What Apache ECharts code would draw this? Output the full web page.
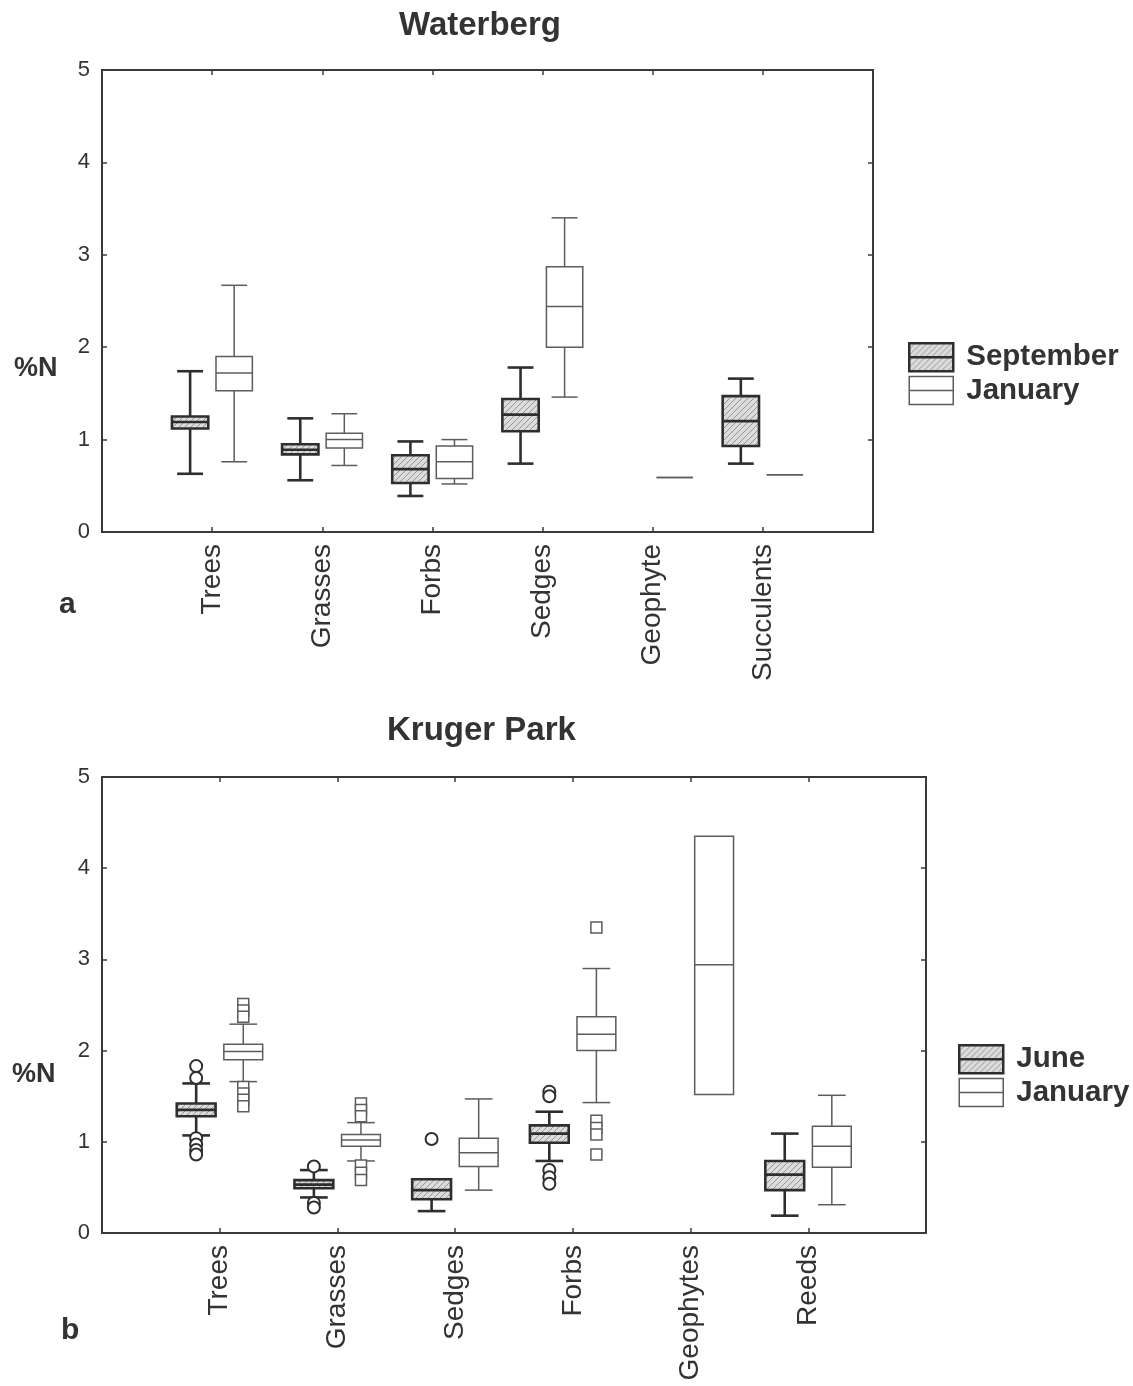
<!DOCTYPE html>
<html><head><meta charset="utf-8">
<script src="https://cdn.jsdelivr.net/npm/echarts@6/dist/echarts.min.js"></script>
<style>html,body{margin:0;padding:0;background:#fff}#c{width:1133px;height:1386px}</style>
</head><body><div id="c"></div><script>
// ---------- data (box stats: [min, q1, median, q3, max]) ----------
const waterbergCategories = ['Trees', 'Grasses', 'Forbs', 'Sedges', 'Geophyte', 'Succulents'];
const waterbergSeptember = [
  [0.63, 1.12, 1.19, 1.25, 1.74],
  [0.56, 0.84, 0.89, 0.95, 1.23],
  [0.39, 0.53, 0.68, 0.83, 0.98],
  [0.74, 1.09, 1.27, 1.44, 1.78],
  null,
  [0.74, 0.93, 1.20, 1.47, 1.66]
];
const waterbergJanuary = [
  [0.76, 1.53, 1.72, 1.90, 2.67],
  [0.72, 0.91, 1.00, 1.07, 1.28],
  [0.52, 0.58, 0.76, 0.93, 1.00],
  [1.46, 2.00, 2.44, 2.87, 3.40],
  [0.59, 0.59, 0.59, 0.59, 0.59],
  [0.62, 0.62, 0.62, 0.62, 0.62]
];
const krugerCategories = ['Trees', 'Grasses', 'Sedges', 'Forbs', 'Geophytes', 'Reeds'];
const krugerJune = [
  [1.07, 1.28, 1.35, 1.42, 1.64],
  [0.39, 0.49, 0.53, 0.58, 0.69],
  [0.24, 0.37, 0.47, 0.59, 0.59],
  [0.79, 0.99, 1.09, 1.18, 1.33],
  null,
  [0.19, 0.47, 0.64, 0.79, 1.09]
];
const krugerJanuary = [
  [1.66, 1.90, 1.99, 2.07, 2.29],
  [0.79, 0.95, 1.02, 1.08, 1.21],
  [0.47, 0.73, 0.88, 1.04, 1.47],
  [1.43, 2.00, 2.18, 2.37, 2.90],
  [1.52, 1.52, 2.94, 4.35, 4.35],
  [0.31, 0.72, 0.95, 1.17, 1.51]
];
// outliers: [categoryIndex, value]
const krugerJuneOutliers = [
  [0, 1.83], [0, 1.70], [0, 1.04], [0, 0.97], [0, 0.91], [0, 0.86],
  [1, 0.73], [1, 0.33], [1, 0.28],
  [2, 1.03],
  [3, 1.55], [3, 1.50], [3, 0.69], [3, 0.61], [3, 0.54]
];
const krugerJanuaryOutliers = [
  [0, 2.51], [0, 2.44], [0, 2.37], [0, 1.60], [0, 1.53], [0, 1.46], [0, 1.39],
  [1, 1.42], [1, 1.35], [1, 1.28], [1, 0.74], [1, 0.66], [1, 0.58],
  [3, 3.35], [3, 1.23], [3, 1.15], [3, 1.08], [3, 0.86]
];
const yTicks = ['0', '1', '2', '3', '4', '5'];

// ---------- styling ----------
const FONT = '"Liberation Sans", Arial, Helvetica, sans-serif';
const TXT = '#333';
const AX = '#3a3a3a';

function makeHatch() {
  const c = document.createElement('canvas');
  c.width = 6; c.height = 6;
  const ctx = c.getContext('2d');
  ctx.fillStyle = '#dcdcdc';
  ctx.fillRect(0, 0, 6, 6);
  ctx.strokeStyle = '#959595';
  ctx.lineWidth = 1;
  ctx.beginPath();
  ctx.moveTo(0, 6); ctx.lineTo(6, 0);
  ctx.moveTo(-3, 3); ctx.lineTo(3, -3);
  ctx.moveTo(3, 9); ctx.lineTo(9, 3);
  ctx.stroke();
  return { image: c, repeat: 'repeat' };
}
const hatch = makeHatch();

const DARK = { stroke: '#2e2e2e', lineWidth: 2.6, fill: hatch };
const LIGHT = { stroke: '#5c5c5c', lineWidth: 1.5, fill: '#ffffff' };

function boxData(stats) {
  const out = [];
  stats.forEach((s, i) => { if (s) out.push([i + 1].concat(s)); });
  return out;
}
function outlierData(list) {
  return list.map(o => [o[0] + 1, o[1]]);
}

function boxRenderer(side, st) {
  return function (params, api) {
    const xi = api.value(0);
    const band = api.size([1, 0])[0];
    const cx = api.coord([xi, 0])[0] + side * 0.2 * band;
    const bw = band * 0.33, cw = band * 0.235;
    const y = k => api.coord([xi, api.value(k)])[1];
    const yMin = y(1), yQ1 = y(2), yMed = y(3), yQ3 = y(4), yMax = y(5);
    const ls = { stroke: st.stroke, lineWidth: st.lineWidth };
    const ch = [];
    if (yMax < yQ3 - 0.5) {
      ch.push({ type: 'line', shape: { x1: cx, y1: yQ3, x2: cx, y2: yMax }, style: ls });
      ch.push({ type: 'line', shape: { x1: cx - cw / 2, y1: yMax, x2: cx + cw / 2, y2: yMax }, style: ls });
    }
    if (yMin > yQ1 + 0.5) {
      ch.push({ type: 'line', shape: { x1: cx, y1: yQ1, x2: cx, y2: yMin }, style: ls });
      ch.push({ type: 'line', shape: { x1: cx - cw / 2, y1: yMin, x2: cx + cw / 2, y2: yMin }, style: ls });
    }
    ch.push({ type: 'rect', shape: { x: cx - bw / 2, y: yQ3, width: bw, height: Math.max(0, yQ1 - yQ3) },
      style: { fill: st.fill, stroke: st.stroke, lineWidth: st.lineWidth } });
    ch.push({ type: 'line', shape: { x1: cx - bw / 2, y1: yMed, x2: cx + bw / 2, y2: yMed }, style: ls });
    return { type: 'group', children: ch };
  };
}
function outlierRenderer(side, shape, st) {
  return function (params, api) {
    const xi = api.value(0);
    const band = api.size([1, 0])[0];
    const p = api.coord([xi, api.value(1)]);
    const cx = p[0] + side * 0.2 * band;
    const style = { fill: '#fff', stroke: st.stroke, lineWidth: st === DARK ? 2 : 1.5 };
    if (shape === 'circle') return { type: 'circle', shape: { cx: cx, cy: p[1], r: 6 }, style };
    return { type: 'rect', shape: { x: cx - 5.5, y: p[1] - 5.5, width: 11, height: 11 }, style };
  };
}

function padCats(c) { return [''].concat(c, ['']); }

const grids = [
  { left: 102, top: 70, width: 771, height: 462, show: true, borderColor: AX, borderWidth: 2, backgroundColor: 'transparent' },
  { left: 102, top: 777, width: 824, height: 456, show: true, borderColor: AX, borderWidth: 2, backgroundColor: 'transparent' }
];
const xAxes = [], yAxes = [];
[waterbergCategories, krugerCategories].forEach((cats, g) => {
  const base = {
    type: 'category', gridIndex: g, data: padCats(cats), boundaryGap: false,
    axisLine: { show: true, onZero: false, lineStyle: { color: AX, width: 2 } },
    axisTick: { show: true, inside: true, length: 5, interval: 0, lineStyle: { color: AX, width: 1.5 } },
    splitLine: { show: false }
  };
  xAxes.push(Object.assign({}, base, {
    position: 'bottom',
    axisLabel: { show: true, interval: 0, rotate: 90, margin: 12, fontSize: 28, color: TXT, fontFamily: FONT }
  }));
  xAxes.push(Object.assign({}, base, { position: 'top', axisLabel: { show: false } }));
  const ybase = {
    type: 'value', gridIndex: g, min: 0, max: 5, interval: 1,
    axisLine: { show: true, onZero: false, lineStyle: { color: AX, width: 2 } },
    axisTick: { show: true, inside: true, length: 5, lineStyle: { color: AX, width: 1.5 } },
    splitLine: { show: false }
  };
  yAxes.push(Object.assign({}, ybase, {
    position: 'left',
    axisLabel: { show: true, margin: 12, fontSize: 22, color: TXT, fontFamily: FONT,
      formatter: v => yTicks[Math.round(v)] }
  }));
  yAxes.push(Object.assign({}, ybase, { position: 'right', axisLabel: { show: false } }));
});

function boxSeries(name, stats, g, side, st) {
  return {
    type: 'custom', name: name, xAxisIndex: g * 2, yAxisIndex: g * 2,
    renderItem: boxRenderer(side, st),
    encode: { x: 0, y: [1, 2, 3, 4, 5] },
    itemStyle: { color: st.fill, borderColor: st.stroke, borderWidth: st.lineWidth },
    data: boxData(stats), silent: true, z: 3
  };
}
function outlierSeries(name, list, g, side, shape, st) {
  return {
    type: 'custom', name: name, xAxisIndex: g * 2, yAxisIndex: g * 2,
    renderItem: outlierRenderer(side, shape, st),
    encode: { x: 0, y: 1 },
    data: outlierData(list), silent: true, z: 4
  };
}

const legendIcon = 'path://M0,0H44V28H0Z M0,14H44';
const legendText = { fontSize: 29.5, fontWeight: 'bold', color: TXT, fontFamily: FONT, padding: [0, 0, 0, 8] };

const option = {
  animation: false,
  backgroundColor: '#fff',
  grid: grids,
  xAxis: xAxes,
  yAxis: yAxes,
  legend: [
    { orient: 'vertical', left: 908, top: 342, padding: 0, itemWidth: 44, itemHeight: 28, itemGap: 3,
      icon: legendIcon, selectedMode: false, textStyle: legendText,
      data: [
        { name: 'September', itemStyle: { color: hatch, borderColor: DARK.stroke, borderWidth: 2.5 } },
        { name: 'January', itemStyle: { color: '#fff', borderColor: LIGHT.stroke, borderWidth: 1.5 } }
      ] },
    { orient: 'vertical', left: 958, top: 1044, padding: 0, itemWidth: 44, itemHeight: 28, itemGap: 3,
      icon: legendIcon, selectedMode: false, textStyle: legendText,
      data: [
        { name: 'June', itemStyle: { color: hatch, borderColor: DARK.stroke, borderWidth: 2.5 } },
        { name: 'January', itemStyle: { color: '#fff', borderColor: LIGHT.stroke, borderWidth: 1.5 } }
      ] }
  ],
  graphic: [
    { type: 'text', left: 399, top: 9, style: { text: 'Waterberg', font: 'bold 33px ' + FONT, fill: TXT } },
    { type: 'text', left: 387, top: 714, style: { text: 'Kruger Park', font: 'bold 33px ' + FONT, fill: TXT } },
    { type: 'text', left: 14, top: 355, style: { text: '%N', font: 'bold 27px ' + FONT, fill: TXT } },
    { type: 'text', left: 12, top: 1061, style: { text: '%N', font: 'bold 27px ' + FONT, fill: TXT } },
    { type: 'text', left: 59, top: 590, style: { text: 'a', font: 'bold 30px ' + FONT, fill: TXT } },
    { type: 'text', left: 61, top: 1316, style: { text: 'b', font: 'bold 30px ' + FONT, fill: TXT } }
  ],
  series: [
    boxSeries('September', waterbergSeptember, 0, -1, DARK),
    boxSeries('January', waterbergJanuary, 0, 1, LIGHT),
    boxSeries('June', krugerJune, 1, -1, DARK),
    boxSeries('January', krugerJanuary, 1, 1, LIGHT),
    outlierSeries('June outliers', krugerJuneOutliers, 1, -1, 'circle', DARK),
    outlierSeries('January outliers', krugerJanuaryOutliers, 1, 1, 'square', LIGHT)
  ]
};
const chart = echarts.init(document.getElementById('c'), null, { renderer: 'canvas' });
chart.setOption(option);
</script></body></html>
